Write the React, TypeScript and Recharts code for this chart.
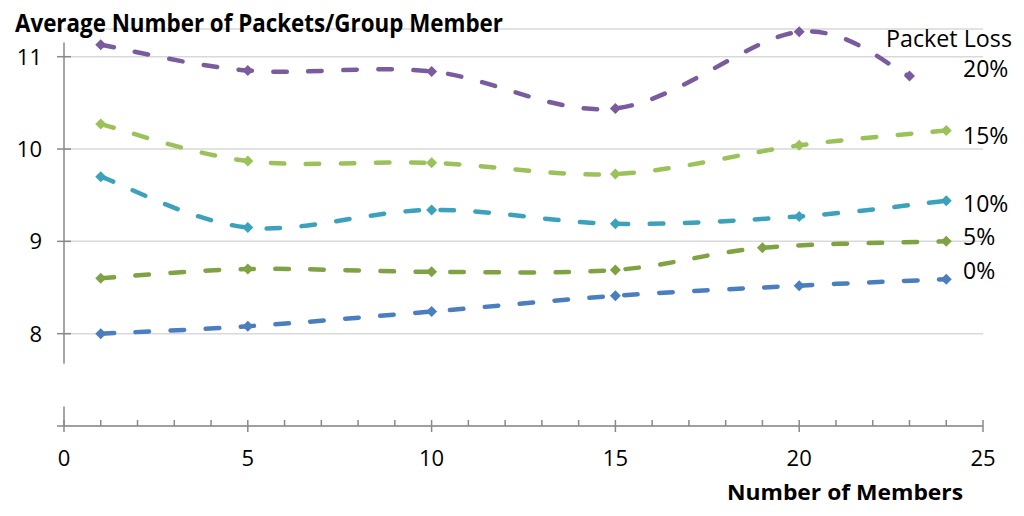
import { CartesianGrid, Line, LineChart, ReferenceLine, XAxis, YAxis } from "recharts";

const members = [1, 5, 10, 15, 20, 24];
const members5 = [1, 5, 10, 15, 19, 24];
const members20 = [1, 5, 10, 15, 20, 23];

const loss0 = [8.0, 8.08, 8.24, 8.41, 8.52, 8.59];
const loss5 = [8.6, 8.7, 8.67, 8.69, 8.93, 9.0];
const loss10 = [9.7, 9.15, 9.34, 9.19, 9.27, 9.44];
const loss15 = [10.27, 9.87, 9.85, 9.73, 10.04, 10.2];
const loss20 = [11.13, 10.85, 10.84, 10.44, 11.27, 10.79];

const xTicks = Array.from({ length: 26 }, (_, i) => i);
const yTicks = [8, 9, 10, 11];
const lossLabels = ["20%", "15%", "10%", "5%", "0%"];

const toPoints = (xs: number[], ys: number[]) => xs.map((x, i) => ({ x, y: ys[i] }));

const series = [
  { name: "0%", color: "#4a7ebf", data: toPoints(members, loss0) },
  { name: "5%", color: "#7fa243", data: toPoints(members5, loss5) },
  { name: "10%", color: "#3ca2bc", data: toPoints(members, loss10) },
  { name: "15%", color: "#9bc258", data: toPoints(members, loss15) },
  { name: "20%", color: "#7a5c9e", data: toPoints(members20, loss20) },
];

const axisColor = "#898989";
const font = "'Open Sans', sans-serif";

// Excel-like smoothed line (Catmull-Rom through the points)
function smoothCurve(context: any) {
  let pts: [number, number][] = [];
  return {
    areaStart() {},
    areaEnd() {},
    lineStart() {
      pts = [];
    },
    point(x: number, y: number) {
      pts.push([+x, +y]);
    },
    lineEnd() {
      const n = pts.length;
      if (!n) return;
      context.moveTo(pts[0][0], pts[0][1]);
      for (let i = 0; i < n - 1; i++) {
        const p0 = pts[Math.max(i - 1, 0)];
        const p1 = pts[i];
        const p2 = pts[i + 1];
        const p3 = pts[Math.min(i + 2, n - 1)];
        context.bezierCurveTo(
          p1[0] + (p2[0] - p0[0]) / 6,
          p1[1] + (p2[1] - p0[1]) / 6,
          p2[0] - (p3[0] - p1[0]) / 6,
          p2[1] - (p3[1] - p1[1]) / 6,
          p2[0],
          p2[1]
        );
      }
    },
  };
}

function Diamond(props: any) {
  const { cx, cy, fill } = props;
  if (cx == null || cy == null) return null;
  const r = 5.5;
  return (
    <polygon
      points={`${cx},${cy - r} ${cx + r},${cy} ${cx},${cy + r} ${cx - r},${cy}`}
      fill={fill}
    />
  );
}

function XTick({ x, y, payload }: any) {
  const v = payload.value;
  const major = v % 5 === 0;
  return (
    <g>
      <line x1={x} x2={x} y1={y - 6} y2={major ? y + 6 : y} stroke={axisColor} strokeWidth={1.5} />
      {v === 0 && <line x1={x - 7} x2={x} y1={y} y2={y} stroke={axisColor} strokeWidth={1.5} />}
      {major && (
        <text x={x} y={y + 40} textAnchor="middle" fontFamily={font} fontSize={22} fill="#000">
          {v}
        </text>
      )}
    </g>
  );
}

function YTick({ x, y, payload }: any) {
  return (
    <g>
      <line x1={x - 7} x2={x + 7} y1={y} y2={y} stroke={axisColor} strokeWidth={1.5} />
      <text x={x - 22} y={y} dy="0.36em" textAnchor="end" fontFamily={font} fontSize={22} fill="#000">
        {payload.value}
      </text>
    </g>
  );
}

export default function App() {
  const labelYs = [77, 144, 212, 245, 279];
  return (
    <div style={{ position: "absolute", left: 0, top: 0, width: 1024, height: 516, background: "#fff" }}>
      <LineChart width={1024} height={516} margin={{ top: 29, right: 41, bottom: 0, left: 0 }}>
        <CartesianGrid vertical={false} stroke="#d9d9d9" strokeWidth={1.5} />
        <XAxis
          type="number"
          dataKey="x"
          domain={[0, 25]}
          ticks={xTicks}
          interval={0}
          height={90}
          tickSize={0}
          tickMargin={0}
          tickLine={false}
          axisLine={{ stroke: axisColor, strokeWidth: 1.5 }}
          tick={<XTick />}
          allowDuplicatedCategory={false}
        />
        <YAxis
          type="number"
          domain={[7, 11.3]}
          ticks={yTicks}
          interval={0}
          width={64}
          tickSize={0}
          tickMargin={0}
          tickLine={false}
          axisLine={false}
          tick={<YTick />}
        />
        <ReferenceLine
          segment={[{ x: 0, y: 7 }, { x: 0, y: 7.21 }]}
          stroke={axisColor}
          strokeWidth={1.5}
          ifOverflow="visible"
        />
        <ReferenceLine
          segment={[{ x: 0, y: 7.675 }, { x: 0, y: 11.155 }]}
          stroke={axisColor}
          strokeWidth={1.5}
          ifOverflow="visible"
        />
        {series.map((s) => (
          <Line
            key={s.name}
            data={s.data}
            dataKey="y"
            name={s.name}
            type={smoothCurve as any}
            stroke={s.color}
            strokeWidth={4.5}
            strokeDasharray="13.5 21.5"
            strokeLinecap="round"
            dot={<Diamond fill={s.color} />}
            activeDot={false}
            isAnimationActive={false}
          />
        ))}
      </LineChart>
      <svg
        width={1024}
        height={516}
        style={{ position: "absolute", left: 0, top: 0, pointerEvents: "none" }}
      >
        <text x={15} y={32} fontFamily={font} fontWeight={700} fontSize={25} fill="#000" textLength={488} lengthAdjust="spacingAndGlyphs">
          Average Number of Packets/Group Member
        </text>
        <text x={727} y={500} fontFamily={font} fontWeight={700} fontSize={22} fill="#000" textLength={236} lengthAdjust="spacingAndGlyphs">
          Number of Members
        </text>
        <text x={886} y={47} fontFamily={font} fontSize={23} fill="#000" textLength={126} lengthAdjust="spacingAndGlyphs">
          Packet Loss
        </text>
        {lossLabels.map((label, i) => (
          <text key={label} x={963} y={labelYs[i]} fontFamily={font} fontSize={23} fill="#000">
            {label}
          </text>
        ))}
      </svg>
    </div>
  );
}
